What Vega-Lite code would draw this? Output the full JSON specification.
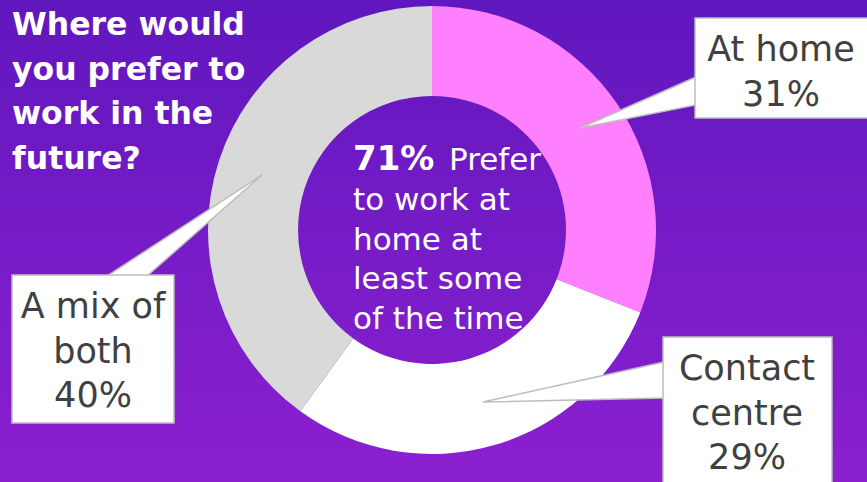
{
  "$schema": "https://vega.github.io/schema/vega-lite/v6.json",
  "width": 867,
  "height": 482,
  "autosize": {"type": "fit", "contains": "padding"},
  "padding": 0,
  "background": "#761bc8",
  "config": {
    "view": {
      "stroke": null,
      "fill": {"gradient": "linear", "x1": 0, "y1": 0, "x2": 0, "y2": 1, "stops": [{"offset": 0, "color": "#6017be"}, {"offset": 1, "color": "#8c20d0"}]}
    },
    "axis": {"disable": true},
    "font": "DejaVu Sans"
  },
  "datasets": {
    "slices": [
      {"slice": "At home", "pct": 31, "rank": 1},
      {"slice": "Contact centre", "pct": 29, "rank": 2},
      {"slice": "A mix of both", "pct": 40, "rank": 3}
    ],
    "boxes": [
      {"id": "home", "x": 695, "x2": 872, "y": 18, "y2": 118},
      {"id": "mix", "x": 12, "x2": 174, "y": 275, "y2": 423},
      {"id": "contact", "x": 663, "x2": 832, "y": 337, "y2": 487}
    ],
    "pointersV": [
      {"id": "home", "x": 580, "y": 128, "y2": 128},
      {"id": "home", "x": 696, "y": 77, "y2": 105},
      {"id": "contact", "x": 483, "y": 402, "y2": 402},
      {"id": "contact", "x": 664, "y": 362, "y2": 398}
    ],
    "pointersH": [
      {"id": "mix", "y": 175, "x": 262, "x2": 262},
      {"id": "mix", "y": 276, "x": 107, "x2": 147}
    ],
    "title": [
      {"x": 12, "y": 35, "text": "Where would\nyou prefer to\nwork in the\nfuture?"}
    ],
    "centerBold": [
      {"x": 353, "y": 170, "text": "71%"}
    ],
    "centerReg": [
      {"x": 449, "y": 170, "text": "Prefer"},
      {"x": 353, "y": 210, "text": "to work at\nhome at\nleast some\nof the time"}
    ],
    "callouts": [
      {"x": 781, "y": 61, "text": "At home\n31%"},
      {"x": 93, "y": 318, "text": "A mix of\nboth\n40%"},
      {"x": 747, "y": 380, "text": "Contact\ncentre\n29%"}
    ]
  },
  "layer": [
    {
      "data": {"name": "slices"},
      "mark": {"type": "arc", "outerRadius": 224, "innerRadius": 134},
      "encoding": {
        "x": {"datum": 432, "type": "quantitative", "scale": {"domain": [0, 867], "nice": false, "zero": false}},
        "y": {"datum": 230, "type": "quantitative", "scale": {"domain": [0, 482], "nice": false, "zero": false, "reverse": true}},
        "theta": {"field": "pct", "type": "quantitative", "stack": true},
        "order": {"field": "rank", "type": "quantitative"},
        "color": {"field": "slice", "type": "nominal", "legend": null,
          "scale": {"domain": ["At home", "Contact centre", "A mix of both"], "range": ["#ff80ff", "#ffffff", "#d9d9d9"]}}
      }
    },
    {
      "data": {"name": "pointersV"},
      "mark": {"type": "area", "color": "#ffffff", "stroke": "#bdbdbd", "strokeWidth": 1.5, "opacity": 1},
      "encoding": {
        "x": {"field": "x", "type": "quantitative"},
        "y": {"field": "y", "type": "quantitative"},
        "y2": {"field": "y2"},
        "detail": {"field": "id"}
      }
    },
    {
      "data": {"name": "pointersH"},
      "mark": {"type": "area", "orient": "horizontal", "color": "#ffffff", "stroke": "#bdbdbd", "strokeWidth": 1.5, "opacity": 1},
      "encoding": {
        "y": {"field": "y", "type": "quantitative"},
        "x": {"field": "x", "type": "quantitative"},
        "x2": {"field": "x2"},
        "detail": {"field": "id"}
      }
    },
    {
      "data": {"name": "boxes"},
      "mark": {"type": "rect", "fill": "#ffffff", "stroke": "#bdbdbd", "strokeWidth": 1.5, "clip": true},
      "encoding": {
        "x": {"field": "x", "type": "quantitative"},
        "x2": {"field": "x2"},
        "y": {"field": "y", "type": "quantitative"},
        "y2": {"field": "y2"}
      }
    },
    {
      "data": {"name": "title"},
      "mark": {"type": "text", "align": "left", "baseline": "alphabetic", "font": "DejaVu Sans", "fontWeight": "bold", "fontSize": 31.5, "lineHeight": 44.5, "lineBreak": "\n", "color": "#ffffff"},
      "encoding": {
        "x": {"field": "x", "type": "quantitative"},
        "y": {"field": "y", "type": "quantitative"},
        "text": {"field": "text"}
      }
    },
    {
      "data": {"name": "centerBold"},
      "mark": {"type": "text", "align": "left", "baseline": "alphabetic", "font": "DejaVu Sans", "fontWeight": "bold", "fontSize": 34, "color": "#ffffff"},
      "encoding": {
        "x": {"field": "x", "type": "quantitative"},
        "y": {"field": "y", "type": "quantitative"},
        "text": {"field": "text"}
      }
    },
    {
      "data": {"name": "centerReg"},
      "mark": {"type": "text", "align": "left", "baseline": "alphabetic", "font": "DejaVu Sans", "fontSize": 31, "lineHeight": 39.5, "lineBreak": "\n", "color": "#ffffff"},
      "encoding": {
        "x": {"field": "x", "type": "quantitative"},
        "y": {"field": "y", "type": "quantitative"},
        "text": {"field": "text"}
      }
    },
    {
      "data": {"name": "callouts"},
      "mark": {"type": "text", "align": "center", "baseline": "alphabetic", "font": "DejaVu Sans", "fontSize": 35, "lineHeight": 44.5, "lineBreak": "\n", "color": "#404040"},
      "encoding": {
        "x": {"field": "x", "type": "quantitative"},
        "y": {"field": "y", "type": "quantitative"},
        "text": {"field": "text"}
      }
    }
  ]
}
